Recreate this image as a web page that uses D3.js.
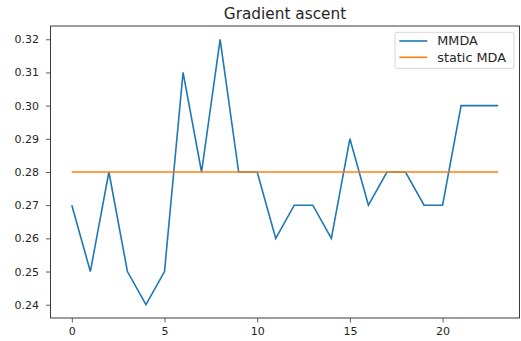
<!DOCTYPE html>
<html>
<head>
<meta charset="utf-8">
<script src="https://cdn.jsdelivr.net/npm/d3@7"></script>
<style>
  body { margin: 0; background: #fff; }
  text { font-family: "DejaVu Sans", sans-serif; fill: #262626; }
</style>
</head>
<body>
<svg width="521" height="341"></svg>
<script>
const steps = d3.range(0, 24);
const mmda = [0.27, 0.25, 0.28, 0.25, 0.24, 0.25, 0.31, 0.28, 0.32, 0.28, 0.28, 0.26,
              0.27, 0.27, 0.26, 0.29, 0.27, 0.28, 0.28, 0.27, 0.27, 0.30, 0.30, 0.30];
const staticMda = [0.28, 0.28, 0.28, 0.28, 0.28, 0.28, 0.28, 0.28, 0.28, 0.28, 0.28, 0.28,
                   0.28, 0.28, 0.28, 0.28, 0.28, 0.28, 0.28, 0.28, 0.28, 0.28, 0.28, 0.28];
const xTicks = [0, 5, 10, 15, 20];
const yTicks = [0.24, 0.25, 0.26, 0.27, 0.28, 0.29, 0.30, 0.31, 0.32];
const seriesNames = ["MMDA", "static MDA"];
const colors = ["#1f77b4", "#ff7f0e"];

const margin = {top: 26, right: 1.5, bottom: 23, left: 50.5};
const width = 521 - margin.left - margin.right;
const height = 341 - margin.top - margin.bottom;

const svg = d3.select("svg");
const g = svg.append("g")
    .attr("transform", "translate(" + margin.left + "," + margin.top + ")");

// matplotlib-style 5% padding
const x = d3.scaleLinear().domain([-1.15, 24.15]).range([0, width]);
const y = d3.scaleLinear().domain([0.236, 0.324]).range([height, 0]);

const xAxis = g.append("g")
    .attr("transform", "translate(0," + height + ")")
    .call(d3.axisBottom(x).tickValues(xTicks).tickSize(4.5).tickPadding(5).tickFormat(d3.format("d")));
const yAxis = g.append("g")
    .call(d3.axisLeft(y).tickValues(yTicks).tickSize(4.5).tickPadding(7).tickFormat(d3.format(".2f")));

[xAxis, yAxis].forEach(a => {
    a.select(".domain").remove();
    a.selectAll("line").attr("stroke", "#333").attr("stroke-width", 0.8);
    a.selectAll("text").attr("font-size", 11).attr("fill", "#262626")
        .attr("font-family", "DejaVu Sans, sans-serif");
});

const line = d3.line()
    .x((d, i) => x(steps[i]))
    .y(d => y(d));

[mmda, staticMda].forEach((s, i) => {
    g.append("path")
        .datum(s)
        .attr("fill", "none")
        .attr("stroke", colors[i])
        .attr("stroke-width", 1.6)
        .attr("d", line);
});

// frame
g.append("rect")
    .attr("width", width)
    .attr("height", height)
    .attr("fill", "none")
    .attr("stroke", "#3a3a3a")
    .attr("stroke-width", 1);

// title
svg.append("text")
    .attr("x", margin.left + width / 2)
    .attr("y", 19)
    .attr("text-anchor", "middle")
    .attr("font-size", 15.3)
    .text("Gradient ascent");

// legend
const lg = g.append("g").attr("transform", "translate(" + (width - 124.5) + ",6.3)");
lg.append("rect")
    .attr("width", 119)
    .attr("height", 36)
    .attr("rx", 2)
    .attr("fill", "#fff")
    .attr("fill-opacity", 0.8)
    .attr("stroke", "#ccc")
    .attr("stroke-width", 0.8);
seriesNames.forEach((name, i) => {
    const row = lg.append("g").attr("transform", "translate(0," + (8.7 + i * 16.3) + ")");
    row.append("line")
        .attr("x1", 4.3).attr("x2", 32.3)
        .attr("stroke", colors[i]).attr("stroke-width", 1.6);
    row.append("text")
        .attr("x", 42.3).attr("y", 4.3)
        .attr("font-size", 12.8)
        .text(name);
});
</script>
</body>
</html>
